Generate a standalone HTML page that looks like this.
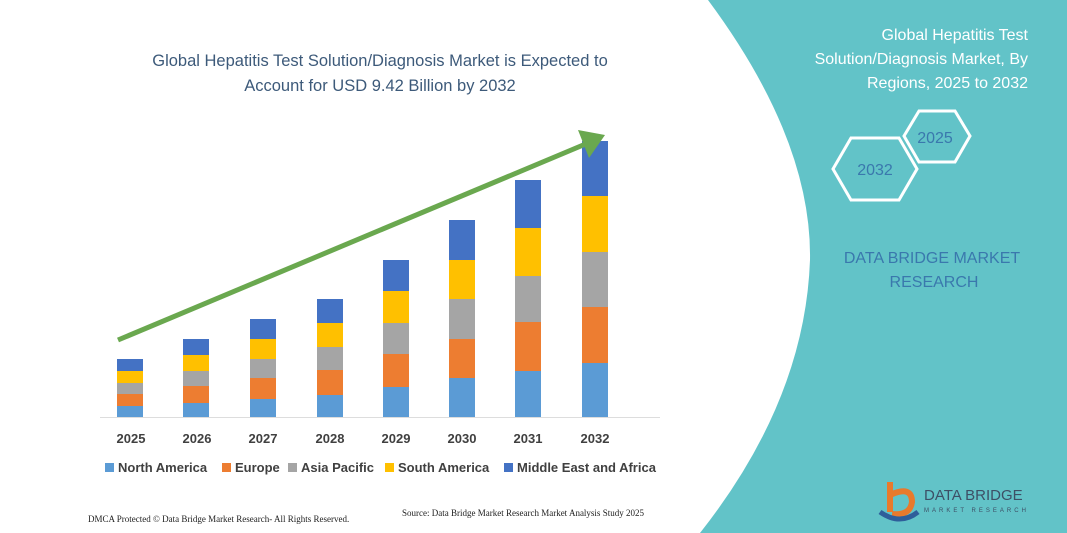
<!DOCTYPE html>
<html><head><meta charset="utf-8"><style>
body{margin:0;width:1067px;height:533px;overflow:hidden;background:#fff;font-family:"Liberation Sans",sans-serif}
</style></head><body>
<svg width="1067" height="533" viewBox="0 0 1067 533" xmlns="http://www.w3.org/2000/svg" style="position:absolute;left:0;top:0">
<path d="M708,0 Q812,140 810,260 Q805,400 700,533 L1067,533 L1067,0 Z" fill="#62c3c8"/>
<g font-size="16.5" fill="#3d5a7a" text-anchor="middle" textLength="0">
<text x="380" y="66">Global Hepatitis Test Solution/Diagnosis Market is Expected to</text>
<text x="380" y="91">Account for USD 9.42 Billion by 2032</text>
</g>
<g font-size="16" fill="#fff" text-anchor="end">
<text x="1028" y="40">Global Hepatitis Test</text>
<text x="1028" y="64">Solution/Diagnosis Market, By</text>
<text x="1028" y="88">Regions, 2025 to 2032</text>
</g>
<polygon points="904,136 919,111 955,111 970,136 955,162 919,162" fill="none" stroke="#fff" stroke-width="3"/>
<polygon points="833,169 851,138 899,138 917,169 899,200 851,200" fill="none" stroke="#fff" stroke-width="3"/>
<text x="935" y="143" font-size="16" fill="#3a78ad" text-anchor="middle">2025</text>
<text x="875" y="175" font-size="16" fill="#3a78ad" text-anchor="middle">2032</text>
<text x="932" y="263" font-size="16" fill="#3a78ad" text-anchor="middle">DATA BRIDGE MARKET</text>
<text x="934" y="287" font-size="16" fill="#3a78ad" text-anchor="middle">RESEARCH</text>
<path d="M890,482 L890,512 M890,495 Q912,485 912,502 Q910,516 892,514" fill="none" stroke="#e87a2c" stroke-width="6"/>
<path d="M880,512 Q900,526 918,512" fill="none" stroke="#2e5e9a" stroke-width="5"/>
<text x="924" y="500" font-size="15" fill="#3d4f66">DATA BRIDGE</text>
<text x="924" y="512" font-size="6" fill="#3d4f66" letter-spacing="3">MARKET RESEARCH</text>
<line x1="100" y1="417.5" x2="660" y2="417.5" stroke="#ddd" stroke-width="1"/>
<g>
<rect x="117" y="359" width="26" height="12" fill="#4472c4"/><rect x="117" y="371" width="26" height="12" fill="#ffc000"/><rect x="117" y="383" width="26" height="11" fill="#a5a5a5"/><rect x="117" y="394" width="26" height="12" fill="#ed7d31"/><rect x="117" y="406" width="26" height="11" fill="#5b9bd5"/>
<rect x="183" y="339" width="26" height="16" fill="#4472c4"/><rect x="183" y="355" width="26" height="16" fill="#ffc000"/><rect x="183" y="371" width="26" height="15" fill="#a5a5a5"/><rect x="183" y="386" width="26" height="17" fill="#ed7d31"/><rect x="183" y="403" width="26" height="14" fill="#5b9bd5"/>
<rect x="250" y="319" width="26" height="20" fill="#4472c4"/><rect x="250" y="339" width="26" height="20" fill="#ffc000"/><rect x="250" y="359" width="26" height="19" fill="#a5a5a5"/><rect x="250" y="378" width="26" height="21" fill="#ed7d31"/><rect x="250" y="399" width="26" height="18" fill="#5b9bd5"/>
<rect x="317" y="299" width="26" height="24" fill="#4472c4"/><rect x="317" y="323" width="26" height="24" fill="#ffc000"/><rect x="317" y="347" width="26" height="23" fill="#a5a5a5"/><rect x="317" y="370" width="26" height="25" fill="#ed7d31"/><rect x="317" y="395" width="26" height="22" fill="#5b9bd5"/>
<rect x="383" y="260" width="26" height="31" fill="#4472c4"/><rect x="383" y="291" width="26" height="32" fill="#ffc000"/><rect x="383" y="323" width="26" height="31" fill="#a5a5a5"/><rect x="383" y="354" width="26" height="33" fill="#ed7d31"/><rect x="383" y="387" width="26" height="30" fill="#5b9bd5"/>
<rect x="449" y="220" width="26" height="40" fill="#4472c4"/><rect x="449" y="260" width="26" height="39" fill="#ffc000"/><rect x="449" y="299" width="26" height="40" fill="#a5a5a5"/><rect x="449" y="339" width="26" height="39" fill="#ed7d31"/><rect x="449" y="378" width="26" height="39" fill="#5b9bd5"/>
<rect x="515" y="180" width="26" height="48" fill="#4472c4"/><rect x="515" y="228" width="26" height="48" fill="#ffc000"/><rect x="515" y="276" width="26" height="46" fill="#a5a5a5"/><rect x="515" y="322" width="26" height="49" fill="#ed7d31"/><rect x="515" y="371" width="26" height="46" fill="#5b9bd5"/>
<rect x="582" y="141" width="26" height="55" fill="#4472c4"/><rect x="582" y="196" width="26" height="56" fill="#ffc000"/><rect x="582" y="252" width="26" height="55" fill="#a5a5a5"/><rect x="582" y="307" width="26" height="56" fill="#ed7d31"/><rect x="582" y="363" width="26" height="54" fill="#5b9bd5"/>
</g>
<line x1="118" y1="340" x2="588" y2="143" stroke="#6aa84f" stroke-width="5"/>
<polygon points="605,135 578,130 589,158" fill="#6aa84f"/>
<g font-size="13" font-weight="bold" fill="#404040" text-anchor="middle">
<text x="131" y="443">2025</text><text x="197" y="443">2026</text><text x="263" y="443">2027</text><text x="330" y="443">2028</text><text x="396" y="443">2029</text><text x="462" y="443">2030</text><text x="528" y="443">2031</text><text x="595" y="443">2032</text>
</g>
<g font-size="13" font-weight="bold" fill="#404040">
<rect x="105" y="463" width="9" height="9" fill="#5b9bd5"/><text x="118" y="472">North America</text>
<rect x="222" y="463" width="9" height="9" fill="#ed7d31"/><text x="235" y="472">Europe</text>
<rect x="288" y="463" width="9" height="9" fill="#a5a5a5"/><text x="301" y="472">Asia Pacific</text>
<rect x="385" y="463" width="9" height="9" fill="#ffc000"/><text x="398" y="472">South America</text>
<rect x="504" y="463" width="9" height="9" fill="#4472c4"/><text x="517" y="472">Middle East and Africa</text>
</g>
<text x="88" y="522" font-size="9" fill="#222" font-family="Liberation Serif,serif">DMCA Protected © Data Bridge Market Research-  All Rights Reserved.</text>
<text x="402" y="516" font-size="9" fill="#222" font-family="Liberation Serif,serif">Source: Data Bridge Market Research  Market Analysis Study 2025</text>
</svg>
</body></html>
